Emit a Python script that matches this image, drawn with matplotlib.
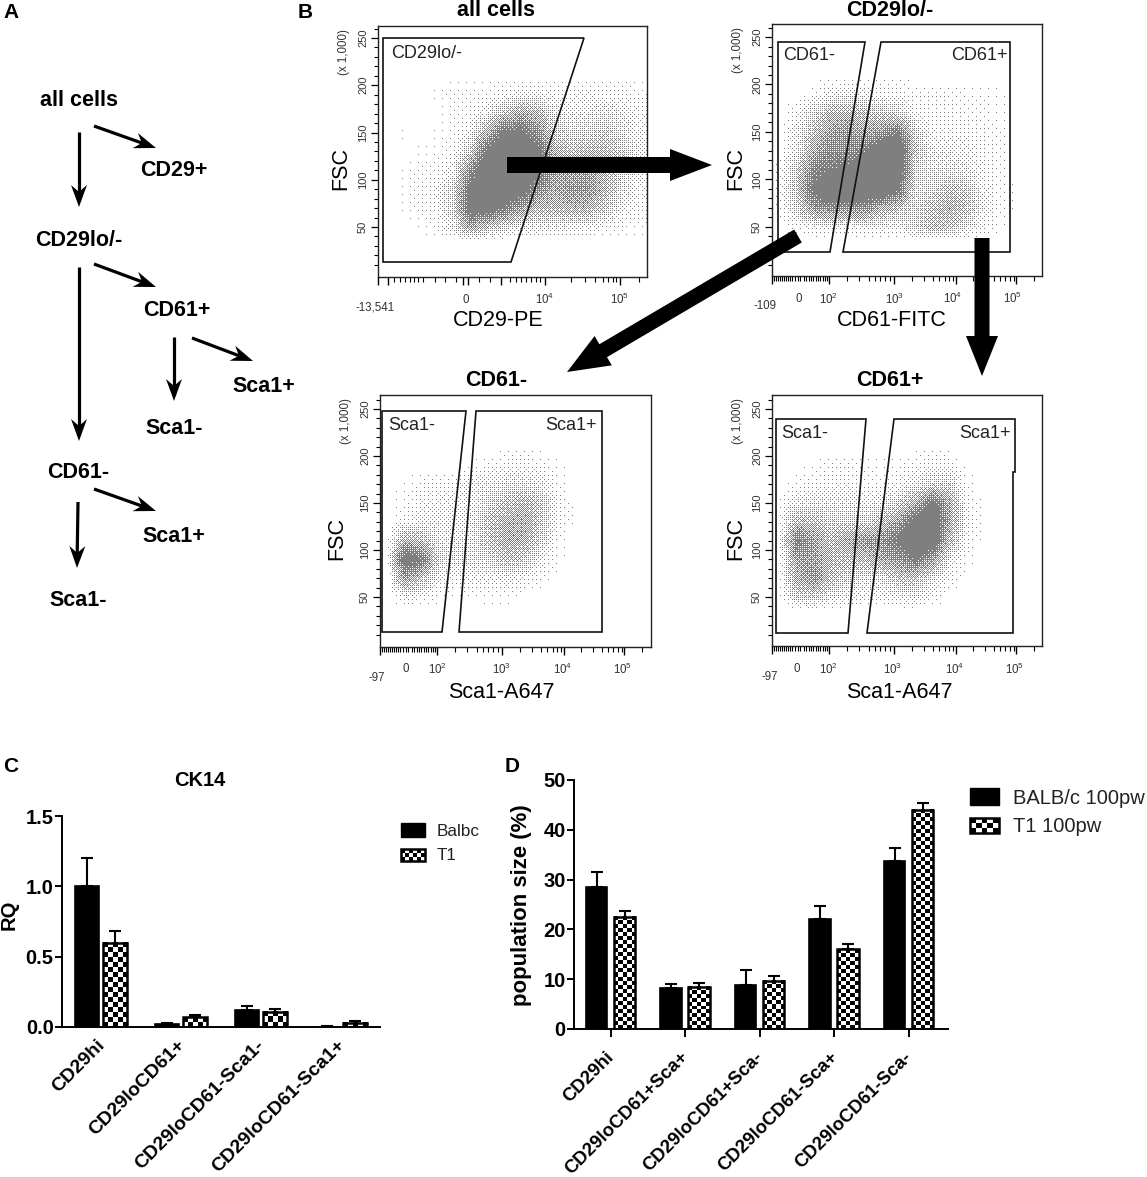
import numpy as np
import matplotlib
matplotlib.use("Agg")
import matplotlib.pyplot as plt
from matplotlib.colors import LinearSegmentedColormap
from matplotlib.patches import FancyArrow, Polygon
from matplotlib.transforms import ScaledTranslation

plt.rcParams["font.family"] = ["Liberation Sans", "DejaVu Sans"]
plt.rcParams["mathtext.default"] = "regular"

W, H = 1147, 1177

# bar chart C
ck14_labels = ["CD29hi", "CD29loCD61+", "CD29loCD61-Sca1-", "CD29loCD61-Sca1+"]
ck14_balbc = [1.0, 0.02, 0.12, 0.003]
ck14_balbc_err = [0.2, 0.005, 0.03, 0.002]
ck14_t1 = [0.6, 0.07, 0.11, 0.03]
ck14_t1_err = [0.085, 0.015, 0.015, 0.015]

# bar chart D
pop_labels = ["CD29hi", "CD29loCD61+Sca+", "CD29loCD61+Sca-", "CD29loCD61-Sca+", "CD29loCD61-Sca-"]
pop_balbc = [28.5, 8.2, 8.8, 22.0, 33.7]
pop_balbc_err = [3.0, 0.8, 3.1, 2.7, 2.6]
pop_t1 = [22.5, 8.5, 9.7, 16.0, 44.0]
pop_t1_err = [1.2, 0.8, 0.9, 1.0, 1.3]

# FACS clouds: share of the plot covered by dots, estimated by eye.
# one row per FSC value, 16 columns across the frame, first and last row empty
fsc_rows = [208, 190, 170, 150, 130, 110, 90, 70, 50, 36]
density_all = [
    [0] * 16,
    [0, 0, 0, .01, .03, .03, .03, .05, .1, .1, .06, .06, .07, .05, .05, .03],
    [0, 0, 0, 0, .02, .03, .1, .3, .45, .35, .15, .1, .12, .15, .12, .06],
    [0, .01, 0, .01, .02, .08, .4, .8, .8, .6, .25, .18, .2, .25, .15, .08],
    [0, 0, .01, .01, .03, .25, .8, 1, 1, .8, .4, .3, .35, .35, .25, .1],
    [0, .01, .02, .03, .1, .6, 1, 1, 1, .8, .5, .45, .5, .35, .2, .1],
    [0, .01, .03, .06, .2, .8, 1, 1, .9, .6, .45, .55, .55, .35, .15, .06],
    [0, .01, .03, .05, .2, .85, .9, .7, .5, .35, .35, .4, .4, .25, .1, .05],
    [0, 0, .01, .03, .12, .5, .3, .2, .12, .12, .1, .1, .08, .05, .03, .02],
    [0] * 16,
]
density_cd29lo = [
    [0] * 16,
    [0, 0, .02, .08, .12, .08, .05, .05, .03, .03, .03, .02, .02, .01, 0, 0],
    [0, .05, .2, .35, .35, .3, .25, .2, .06, .04, .04, .03, .02, .01, 0, 0],
    [0, .1, .3, .5, .55, .45, .55, .7, .2, .06, .06, .05, .04, .02, 0, 0],
    [0, .12, .45, .6, .6, .7, 1, 1, .3, .1, .1, .08, .05, .02, 0, 0],
    [.03, .25, .65, .75, .8, .95, 1, .9, .2, .15, .15, .12, .06, .02, 0, 0],
    [.03, .3, .8, 1, 1, 1, 1, .75, .15, .2, .3, .25, .08, .03, 0, 0],
    [.02, .2, .55, .65, .6, .6, .4, .3, .2, .3, .4, .3, .1, .03, 0, 0],
    [0, .03, .07, .08, .06, .08, .1, .08, .2, .3, .3, .15, .06, .01, 0, 0],
    [0] * 16,
]
density_cd61neg = [
    [0] * 16,
    [0, 0, 0, 0, 0, .01, .03, .05, .05, .04, .01, 0, 0, 0, 0, 0],
    [0, .01, .03, .05, .05, .1, .12, .15, .15, .12, .02, 0, 0, 0, 0, 0],
    [0, .02, .06, .08, .08, .1, .2, .3, .35, .25, .05, 0, 0, 0, 0, 0],
    [0, .05, .1, .1, .08, .12, .3, .4, .45, .25, .05, 0, 0, 0, 0, 0],
    [.01, .4, .3, .12, .12, .15, .3, .4, .4, .2, .02, 0, 0, 0, 0, 0],
    [.01, .9, .7, .2, .15, .15, .2, .3, .25, .08, .01, 0, 0, 0, 0, 0],
    [0, .5, .3, .08, .06, .07, .08, .1, .07, .02, 0, 0, 0, 0, 0, 0],
    [0, .08, .05, .01, 0, .01, .02, .02, 0, 0, 0, 0, 0, 0, 0, 0],
    [0] * 16,
]
density_cd61pos = [
    [0] * 16,
    [0, 0, .01, .03, .03, .02, .01, .02, .04, .06, .05, 0, 0, 0, 0, 0],
    [0, .02, .04, .05, .05, .03, .03, .06, .12, .2, .2, .02, 0, 0, 0, 0],
    [.01, .12, .14, .12, .12, .1, .12, .2, .4, .8, .45, .05, 0, 0, 0, 0],
    [.03, .35, .3, .22, .2, .2, .3, .5, .9, 1, .45, .08, 0, 0, 0, 0],
    [.05, .7, .5, .3, .45, .55, .55, .8, 1, .95, .35, .05, 0, 0, 0, 0],
    [.02, .5, .5, .35, .3, .35, .45, .55, .75, .5, .12, .02, 0, 0, 0, 0],
    [.01, .4, .55, .3, .2, .15, .15, .3, .3, .15, .05, 0, 0, 0, 0, 0],
    [.01, .2, .25, .12, .1, .06, .06, .1, .12, .04, 0, 0, 0, 0, 0, 0],
    [0] * 16,
]

# x ticks of the FACS plots, pixels from the left of the frame
ticks_all = [0, 10, 16, 22, 27, 32, 36, 40, 45, 57, 67, 78, 85, 90, 101, 112, 123,
             132, 138, 143, 148, 153, 158, 162, 167, 193, 207, 217, 225, 230, 235, 238, 242, 261]
ticks_other = [0, 2, 4, 6, 8, 10, 12, 14, 16, 18, 20, 23, 26, 28, 32, 34, 37, 39, 41, 44, 46, 48, 51, 53, 55, 57,
               75, 87, 97, 103, 108, 113, 118, 122, 140, 152, 161, 167, 173, 177, 181, 184,
               201, 213, 222, 228, 233, 238, 242, 244, 262]
ticks_other_long = [0, 57, 122, 184, 244]
ticks_all_long = [0, 10, 85, 90, 123, 167, 242]

fig = plt.figure(figsize=(W / 100, H / 100), dpi=100)
over = fig.add_axes([0, 0, 1, 1], zorder=10)
over.set_xlim(0, W)
over.set_ylim(H, 0)
over.axis("off")
over.patch.set_alpha(0)


def px_axes(left, top, right, bottom):
    return fig.add_axes([left / W, 1 - bottom / H, (right - left) / W, (bottom - top) / H])


def label(x, y, s, size, bold=False, rotation=0, color="black", ha="center"):
    if rotation == 0:
        y += 1
    over.text(x, y, s, fontsize=size, fontweight="bold" if bold else "normal", rotation=rotation,
              color=color, ha=ha, va="center")


cloud_cmap = LinearSegmentedColormap.from_list("cloud", ["white", "#7f7f7f"])

# ordered dither, turns the density grid into single pixel dots
bayer = np.array([[0, 32, 8, 40, 2, 34, 10, 42],
                  [48, 16, 56, 24, 50, 18, 58, 26],
                  [12, 44, 4, 36, 14, 46, 6, 38],
                  [60, 28, 52, 20, 62, 30, 54, 22],
                  [3, 35, 11, 43, 1, 33, 9, 41],
                  [51, 19, 59, 27, 49, 17, 57, 25],
                  [15, 47, 7, 39, 13, 45, 5, 37],
                  [63, 31, 55, 23, 61, 29, 53, 21]]) / 64 + 1 / 128


def stipple(density, width, height, ymin, ymax):
    grid = np.array(density, dtype=float)
    rows = np.array(fsc_rows[::-1], dtype=float)
    y_px = np.linspace(ymax, ymin, height)
    x_cols = (np.arange(grid.shape[1]) + 0.5) / grid.shape[1]
    x_px = (np.arange(width) + 0.5) / width
    by_row = np.array([np.interp(y_px, rows, grid[::-1, c], left=0, right=0) for c in range(grid.shape[1])])
    smooth = np.array([np.interp(x_px, x_cols, by_row[:, r]) for r in range(height)])
    jj, ii = np.indices((height, width))
    # the core of each cloud is solid in the original
    return smooth * 1.3 > bayer[jj % 8, ii % 8]


def facs_panel(frame, y50, y250, density, ticks, ticks_long, xlabels, gates, gate_texts, title, xlabel, fsc_x):
    left, top, right, bottom = frame
    ax = px_axes(left, top, right, bottom)
    scale = (y50 - y250) / 200
    ymin = 50 - (bottom - y50) / scale
    ymax = 50 + (y50 - top) / scale
    dots = stipple(density, right - left, bottom - top, ymin, ymax)
    ax.imshow(dots, cmap=cloud_cmap, vmin=0, vmax=1, aspect="auto", interpolation="nearest",
              extent=(left, right, ymin, ymax))
    ax.set_xlim(left, right)
    ax.set_ylim(ymin, ymax)
    for s in ax.spines.values():
        s.set_linewidth(1.0)
        s.set_color("#222222")
    ax.set_yticks([v for v in range(10, 261, 10) if v % 50])
    ax.set_yticks([50, 100, 150, 200, 250], minor=True)
    ax.tick_params(axis="y", which="major", length=3, width=0.8, labelleft=False)
    ax.tick_params(axis="y", which="minor", length=5, width=0.9, labelleft=False)
    ax.set_xticks([left + t for t in ticks if t not in ticks_long])
    ax.set_xticks([left + t for t in ticks_long], minor=True)
    ax.tick_params(axis="x", which="major", length=3.5, width=0.8, labelbottom=False)
    ax.tick_params(axis="x", which="minor", length=6, width=1.0, labelbottom=False)

    for v, ypx in zip([50, 100, 150, 200, 250], np.linspace(y50, y250, 5)):
        label(left - 15, ypx, str(v), 8, rotation=90, color="#333333")
    label(left - 34, top + 26, "(x 1,000)", 8.3, rotation=90, color="#333333")
    for x, y, s in xlabels:
        label(x, y, s, 8.3, color="#333333")
    for gate in gates:
        over.add_patch(Polygon(gate, closed=True, fill=False, edgecolor="#111111", linewidth=1.2))
    for x, y, s in gate_texts:
        label(x, y, s, 13, color="#222222")
    label(title[0], title[1], title[2], 15.5, bold=True)
    label(xlabel[0], xlabel[1], xlabel[2], 15.5)
    label(fsc_x, (y50 + y250) / 2 + 36, "FSC", 15.5, rotation=90)


facs_panel((378, 26, 647, 277), 227, 38, density_all, ticks_all, ticks_all_long,
           [(375, 307, "-13,541"), (466, 299, "0"), (545, 298, "$10^4$"), (620, 298, "$10^5$")],
           [[(383, 38), (584, 38), (511, 262), (383, 262)]],
           [(427, 52, "CD29lo/-")], (496, 10, "all cells"), (498, 320, "CD29-PE"), 341)
facs_panel((772, 24, 1042, 276), 227, 37, density_cd29lo, ticks_other, ticks_other_long,
           [(765, 305, "-109"), (799, 298, "0"), (828, 298, "$10^2$"), (895, 298, "$10^3$"),
            (953, 297, "$10^4$"), (1013, 297, "$10^5$")],
           [[(778, 42), (865, 42), (830, 252), (778, 252)],
            [(881, 42), (1010, 42), (1010, 252), (843, 252)]],
           [(809, 55, "CD61-"), (979, 55, "CD61+")], (890, 10, "CD29lo/-"), (892, 320, "CD61-FITC"), 736)
facs_panel((380, 395, 651, 647), 597, 409, density_cd61neg, ticks_other, ticks_other_long,
           [(377, 677, "-97"), (406, 668, "0"), (437, 668, "$10^2$"), (502, 668, "$10^3$"),
            (563, 668, "$10^4$"), (623, 668, "$10^5$")],
           [[(382, 411), (466, 411), (442, 632), (382, 632)],
            [(476, 411), (602, 411), (602, 632), (459, 632)]],
           [(412, 425, "Sca1-"), (571, 425, "Sca1+")], (496, 379, "CD61-"), (501, 692, "Sca1-A647"), 337)
facs_panel((772, 395, 1042, 646), 597, 409, density_cd61pos, ticks_other, ticks_other_long,
           [(770, 676, "-97"), (797, 668, "0"), (828, 668, "$10^2$"), (893, 668, "$10^3$"),
            (955, 668, "$10^4$"), (1015, 668, "$10^5$")],
           [[(776, 419), (866, 419), (848, 633), (776, 633)],
            [(894, 419), (1015, 419), (1015, 472), (1013, 472), (1013, 633), (867, 633)]],
           [(805, 432, "Sca1-"), (985, 432, "Sca1+")], (890, 379, "CD61+"), (899, 692, "Sca1-A647"), 736)


def big_arrow(x0, y0, x1, y1, width, head_width, head_length):
    over.add_patch(FancyArrow(x0, y0, x1 - x0, y1 - y0, width=width, head_width=head_width, head_length=head_length,
                              length_includes_head=True, color="black", linewidth=0))


big_arrow(507, 165, 712, 165, 16, 32, 42)
big_arrow(798, 236, 567, 372, 15, 34, 42)
big_arrow(982, 238, 982, 376, 15, 32, 40)


def thin_arrow(x0, y0, x1, y1):
    v = np.array([x1 - x0, y1 - y0], dtype=float)
    v /= np.hypot(*v)
    n = np.array([-v[1], v[0]])
    tip = np.array([x1, y1])
    over.plot([x0, x1 - 6 * v[0]], [y0, y1 - 6 * v[1]], color="black", lw=2.3, solid_capstyle="butt")
    over.add_patch(Polygon([tip, tip - 22 * v + 8 * n, tip - 15 * v, tip - 22 * v - 8 * n],
                           closed=True, color="black", linewidth=0))


# panel A
thin_arrow(79, 132, 79, 207)
thin_arrow(94, 126, 156, 148)
thin_arrow(79, 267, 79, 441)
thin_arrow(94, 264, 156, 287)
thin_arrow(174, 337, 174, 401)
thin_arrow(192, 338, 253, 361)
thin_arrow(94, 489, 156, 511)
thin_arrow(78, 502, 77, 568)
for x, y, s in [(79, 100, "all cells"), (174, 169, "CD29+"), (79, 239, "CD29lo/-"), (177, 309, "CD61+"),
                (264, 386, "Sca1+"), (174, 428, "Sca1-"), (78, 472, "CD61-"), (174, 535, "Sca1+"), (78, 600, "Sca1-")]:
    label(x, y, s, 15.5, bold=True)
for x, y, s in [(11, 11, "A"), (305, 11, "B"), (11, 765, "C"), (512, 765, "D")]:
    label(x, y, s, 15, bold=True)

checker_cmap = LinearSegmentedColormap.from_list("checker", ["black", "white"])


def checker_fill(ax, x, w, h, cell_px):
    p0 = ax.transData.transform((x, 0))
    p1 = ax.transData.transform((x + w, h))
    nx = max(2, int(round(abs(p1[0] - p0[0]) / cell_px)))
    ny = max(1, int(round(abs(p1[1] - p0[1]) / cell_px)))
    board = np.indices((ny, nx)).sum(axis=0) % 2
    ax.imshow(board, cmap=checker_cmap, aspect="auto", interpolation="nearest", extent=(x, x + w, 0, h), zorder=2)


def bar_panel(ax, labels, a, a_err, b, b_err, width, offset, cell_px):
    n = np.arange(len(labels))
    xlim, ylim = ax.get_xlim(), ax.get_ylim()
    ax.bar(n - offset, a, width, color="black", edgecolor="black", linewidth=1.2, zorder=3)
    ax.bar(n + offset, b, width, facecolor="none", edgecolor="black", linewidth=1.8, zorder=3)
    for xi, v in zip(n + offset, b):
        checker_fill(ax, xi - width / 2, width, v, cell_px)
    ax.errorbar(n - offset, a, yerr=[np.zeros(len(a)), a_err], fmt="none", ecolor="black", elinewidth=1.5,
                capsize=4, capthick=1.5, zorder=1)
    ax.errorbar(n + offset, b, yerr=[np.zeros(len(b)), b_err], fmt="none", ecolor="black", elinewidth=1.5,
                capsize=4, capthick=1.5, zorder=1)
    ax.set_xlim(xlim)
    ax.set_ylim(ylim)
    ax.spines["top"].set_visible(False)
    ax.spines["right"].set_visible(False)
    ax.spines["left"].set_linewidth(1.4)
    ax.spines["bottom"].set_linewidth(1.4)
    ax.patch.set_alpha(0)
    ax.set_xticks(n)


def shift_labels(ax, dx_px, dy_px):
    # move the rotated labels by some pixels, the tick pad only goes straight down
    for t in ax.get_xticklabels():
        t.set_transform(t.get_transform() + ScaledTranslation(dx_px / 100, -dy_px / 100, fig.dpi_scale_trans))


# panel C
ax_c = px_axes(62, 816, 380, 1027)
ax_c.set_xlim((62 - 101) / 80, (380 - 101) / 80)
ax_c.set_ylim(0, 1.5)
bar_panel(ax_c, ck14_labels, ck14_balbc, ck14_balbc_err, ck14_t1, ck14_t1_err, 24.5 / 80, 14 / 80, 5)
ax_c.set_yticks([0, 0.5, 1.0, 1.5])
ax_c.set_yticklabels(["0.0", "0.5", "1.0", "1.5"], fontsize=14.5, fontweight="bold")
ax_c.set_xticklabels(ck14_labels, fontsize=14, fontweight="bold", rotation=45, ha="right", rotation_mode="anchor")
ax_c.tick_params(axis="y", length=5, width=1.4, pad=1)
ax_c.tick_params(axis="x", length=0, pad=7)
shift_labels(ax_c, -5, 0)
label(200, 779, "CK14", 14.5, bold=True)
label(9, 915, "RQ", 14.5, bold=True, rotation=90)

# panel D
ax_d = px_axes(574, 780, 948, 1029)
ax_d.set_xlim((574 - 610.6) / 74.5, (948 - 610.6) / 74.5)
ax_d.set_ylim(0, 50)
bar_panel(ax_d, pop_labels, pop_balbc, pop_balbc_err, pop_t1, pop_t1_err, 21.5 / 74.5, 14 / 74.5, 4)
ax_d.set_yticks([0, 10, 20, 30, 40, 50])
ax_d.set_yticklabels(["0", "10", "20", "30", "40", "50"], fontsize=14.5, fontweight="bold")
ax_d.set_xticklabels(pop_labels, fontsize=13.4, fontweight="bold", rotation=45, ha="right", rotation_mode="anchor")
ax_d.tick_params(axis="y", length=5, width=1.4, pad=1)
ax_d.tick_params(axis="x", length=6, width=1.4, pad=8)
shift_labels(ax_d, -5, 0)
label(522, 905, "population size (%)", 16, bold=True, rotation=90)

# legends, one axes-free swatch pair each
legend_c = [("Balbc", 830), ("T1", 855)]
legend_d = [("BALB/c 100pw", 797), ("T1 100pw", 826)]
over.add_patch(plt.Rectangle((401, 823), 24, 14, color="black"))
over.add_patch(plt.Rectangle((970, 788), 29, 17, color="black"))
for (x, y, w, h, cell) in [(401, 849, 24, 12, 4), (970, 818, 29, 15, 5)]:
    nx, ny = int(w / cell), int(h / cell)
    board = np.indices((ny, nx)).sum(axis=0) % 2
    over.imshow(board, cmap=checker_cmap, aspect="auto", interpolation="nearest", extent=(x, x + w, y + h, y))
    over.add_patch(plt.Rectangle((x, y), w, h, fill=False, edgecolor="black", linewidth=1.8))
over.set_xlim(0, W)
over.set_ylim(H, 0)
for s, y in legend_c:
    label(437, y, s, 12.3, ha="left", color="#222222")
for s, y in legend_d:
    label(1013, y, s, 14.5, ha="left", color="#222222")

fig.savefig("out.png", dpi=100)
